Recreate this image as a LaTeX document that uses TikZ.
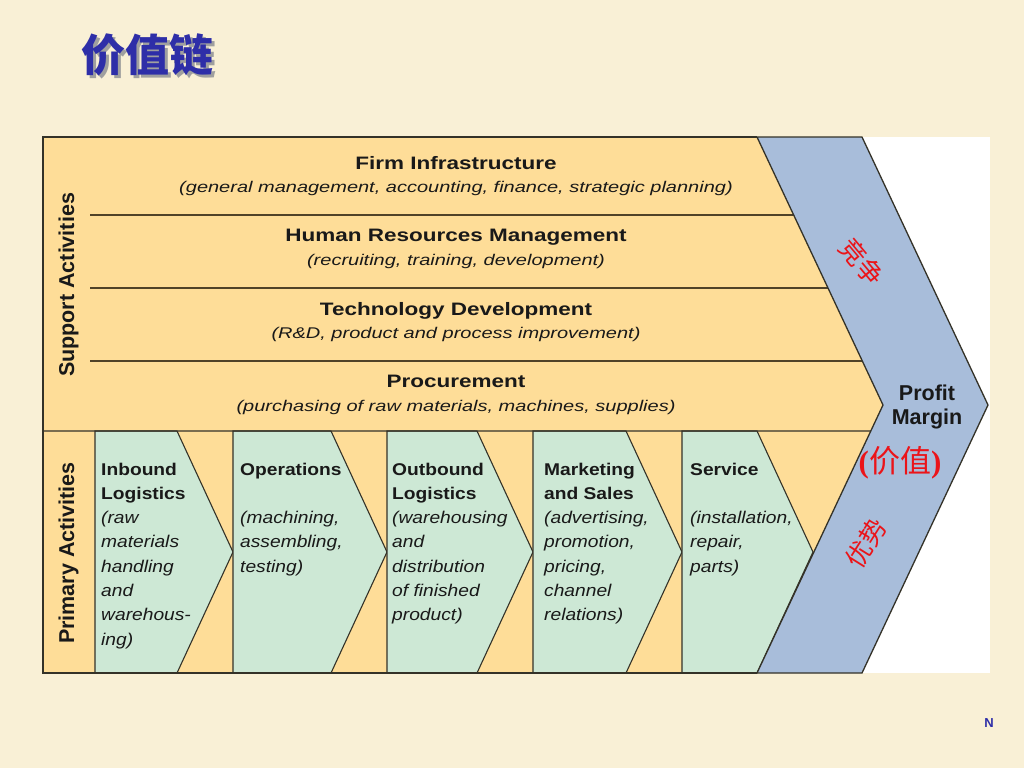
\documentclass[tikz,border=0pt]{standalone}
\usepackage{fontspec}
\setmainfont{Liberation Sans}
\newfontfamily\fhead[FakeStretch=1.25]{Liberation Sans}
\newfontfamily\fital[FakeStretch=1.29]{Liberation Sans}
\newfontfamily\fprim[FakeStretch=1.13]{Liberation Sans}
\newfontfamily\cjk{Noto Sans CJK SC}
\newfontfamily\parenfont{Liberation Serif}
\usetikzlibrary{calc}
\definecolor{parch}{RGB}{249,240,214}
\definecolor{yellowc}{RGB}{254,221,152}
\definecolor{greenc}{RGB}{205,232,213}
\definecolor{bluec}{RGB}{168,189,218}
\definecolor{edgec}{RGB}{52,50,40}
\definecolor{sepc}{RGB}{80,66,40}
\definecolor{txtc}{RGB}{25,25,25}
\definecolor{titleblue}{RGB}{46,46,168}
\definecolor{redc}{RGB}{235,20,25}
\tikzset{
  edge/.style={draw=edgec, line width=1.3pt, line join=miter},
  chev/.style={fill=greenc, draw=edgec, line width=1.1pt, line join=miter},
  sepline/.style={draw=sepc, line width=1.8pt},
  headtxt/.style={anchor=base, inner sep=0pt, text=txtc, font=\fhead\bfseries\fontsize{18}{20}\selectfont},
  subtxt/.style={anchor=base, inner sep=0pt, text=txtc, font=\fital\itshape\fontsize{15.5}{18}\selectfont},
  ptxt/.style={anchor=base west, inner sep=0pt, text=txtc, font=\fprim\fontsize{17}{20}\selectfont},
  sidetxt/.style={anchor=base, inner sep=0pt, rotate=90, text=txtc, font=\bfseries\fontsize{21.5}{24}\selectfont},
  pmtxt/.style={anchor=base, inner sep=0pt, text=txtc, font=\bfseries\fontsize{21.5}{24}\selectfont},
  redtxt/.style={inner sep=0pt, text=redc, font=\cjk\fontsize{26}{28}\selectfont},
  titletxt/.style={inner sep=0pt, font=\cjk\bfseries\fontsize{44}{48}\selectfont}
}
\begin{document}
\begin{tikzpicture}[x=1pt,y=-1pt]
\fill[parch] (0,0) rectangle (1024,768);
\useasboundingbox (0,0) rectangle (1024,768);

% title with shadow
\node[titletxt, text=gray!75] (titleshadow) at (150,58) {价值链};
\node[titletxt, text=titleblue] (title) at (147,55) {价值链};

% frame coordinates
\coordinate (TL) at (43,137);
\coordinate (BL) at (43,673);
\coordinate (b1) at (757,137);
\coordinate (b2) at (883,405);
\coordinate (b3) at (757,673);
\coordinate (c1) at (862,137);
\coordinate (c2) at (988,405);
\coordinate (c3) at (862,673);

\fill[white] (43,137) rectangle (990,673);
\fill[yellowc] (TL) -- (b1) -- (b2) -- (b3) -- (BL) -- cycle;

% primary chevrons
\filldraw[chev] (95,431) -- (177,431) -- (233,552) -- (177,673) -- (95,673) -- cycle;
\filldraw[chev] (233,431) -- (331,431) -- (387,552) -- (331,673) -- (233,673) -- cycle;
\filldraw[chev] (387,431) -- (477,431) -- (533,552) -- (477,673) -- (387,673) -- cycle;
\filldraw[chev] (533,431) -- (626,431) -- (682,552) -- (626,673) -- (533,673) -- cycle;
\filldraw[chev] (682,431) -- (757,431) -- (813,552) -- (757,673) -- (682,673) -- cycle;

% support separators
\draw[sepline] (90,215) -- ($(b1)!0.291!(b2)$);
\draw[sepline] (90,288) -- ($(b1)!0.5634!(b2)$);
\draw[sepline] (90,361) -- ($(b1)!0.8358!(b2)$);
\draw[edge] (43,431) -- ($(b2)!0.097!(b3)$);

% outline of the left part
\draw[edge] (b1) -- (TL) -- (BL) -- (b3);

% profit margin band
\filldraw[fill=bluec, edge] (b1) -- (c1) -- (c2) -- (c3) -- (b3) -- (b2) -- cycle;

% side labels
\node[sidetxt] (support) at (74,285) {Support Activities};
\node[sidetxt] (primary) at (74,553) {Primary Activities};

% support activities text
\node[headtxt] (fi) at (456,169) {Firm Infrastructure};
\node[subtxt] (fis) at (456,192) {(general management, accounting, finance, strategic planning)};
\node[headtxt] (hr) at (456,241) {Human Resources Management};
\node[subtxt] (hrs) at (456,265) {(recruiting, training, development)};
\node[headtxt] (td) at (456,315) {Technology Development};
\node[subtxt] (tds) at (456,338) {(R\&D, product and process improvement)};
\node[headtxt] (pr) at (456,387) {Procurement};
\node[subtxt] (prs) at (456,411) {(purchasing of raw materials, machines, supplies)};

% primary activities text
\foreach \k/\t in {0/{\bfseries Inbound},1/{\bfseries Logistics},2/{\itshape (raw},3/{\itshape materials},4/{\itshape handling},5/{\itshape and},6/{\itshape warehous-},7/{\itshape ing)}}
  \node[ptxt] (ib\k) at ({101},{475+24.3*\k}) {\t};
\foreach \k/\t in {0/{\bfseries Operations},2/{\itshape (machining,},3/{\itshape assembling,},4/{\itshape testing)}}
  \node[ptxt] (op\k) at ({240},{475+24.3*\k}) {\t};
\foreach \k/\t in {0/{\bfseries Outbound},1/{\bfseries Logistics},2/{\itshape (warehousing},3/{\itshape and},4/{\itshape distribution},5/{\itshape of finished},6/{\itshape product)}}
  \node[ptxt] (ob\k) at ({392},{475+24.3*\k}) {\t};
\foreach \k/\t in {0/{\bfseries Marketing},1/{\bfseries and Sales},2/{\itshape (advertising,},3/{\itshape promotion,},4/{\itshape pricing,},5/{\itshape channel},6/{\itshape relations)}}
  \node[ptxt] (ms\k) at ({544},{475+24.3*\k}) {\t};
\foreach \k/\t in {0/{\bfseries Service},2/{\itshape (installation,},3/{\itshape repair,},4/{\itshape parts)}}
  \node[ptxt] (sv\k) at ({690},{475+24.3*\k}) {\t};

% profit margin
\node[pmtxt] (profit) at (927,400) {Profit};
\node[pmtxt] (margin) at (927,424) {Margin};

% red annotations
\node[redtxt, rotate=-50] (jz) at (862,262) {竞争};
\node[redtxt, font=\cjk\fontsize{31}{33}\selectfont] (jv) at (900,463) {{\parenfont\bfseries(}价值{\parenfont\bfseries)}};
\node[redtxt, rotate=58] (ys) at (866,543) {优势};

% page mark
\node[inner sep=0pt, text=titleblue, font=\bfseries\fontsize{13}{14}\selectfont] (pn) at (989,723) {N};
\end{tikzpicture}
\end{document}
